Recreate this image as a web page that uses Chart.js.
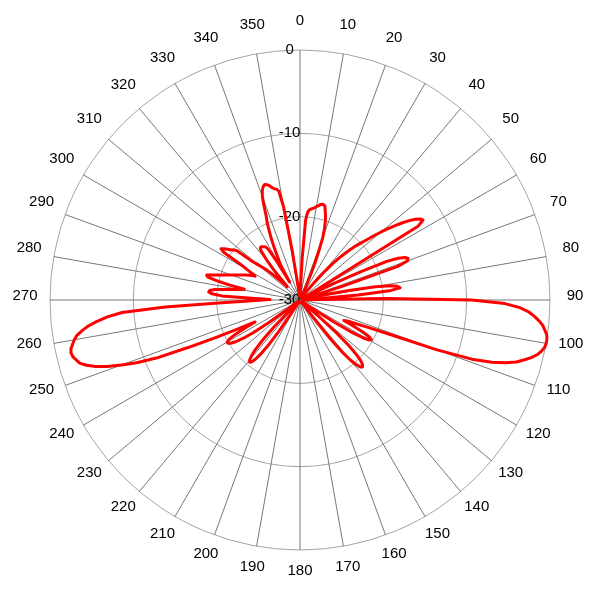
<!DOCTYPE html>
<html><head><meta charset="utf-8">
<script src="https://cdn.jsdelivr.net/npm/chart.js@4"></script>
<style>html,body{margin:0;padding:0;background:#fff}canvas{display:block}</style>
</head><body>
<canvas id="c" width="600" height="600"></canvas>
<script>
// Gain pattern (dB), one value per degree (clockwise from 0 = up)
const gain0to89 = [-29.5,-29.5,-29.0,-25.0,-20.4,-19.4,-19.1,-19.0,-18.9,-18.8,
 -18.6,-18.5,-18.3,-18.2,-18.2,-18.4,-19.0,-19.5,-20.2,-21.0,
 -22.0,-23.6,-25.2,-27.0,-28.8,-29.5,-29.6,-29.6,-29.7,-29.7,
 -29.7,-29.7,-29.7,-29.6,-29.6,-29.6,-29.5,-29.3,-28.5,-27.4,
 -26.3,-25.2,-24.0,-23.1,-22.2,-21.4,-20.6,-19.9,-19.2,-18.2,
 -17.3,-16.4,-15.5,-14.6,-13.8,-13.1,-12.6,-12.4,-13.3,-29.0,
 -29.6,-29.7,-29.6,-28.8,-25.6,-22.0,-18.6,-17.2,-16.4,-16.1,
 -16.3,-17.6,-24.5,-29.0,-29.6,-29.7,-29.6,-28.6,-26.8,-24.0,
 -20.8,-19.0,-18.2,-17.9,-19.0,-23.0,-27.5,-29.3,-29.4,-19.6];
const gain90to179 = [-9.4,-5.4,-3.6,-2.5,-1.8,-1.2,-0.7,-0.4,-0.1,0,
 0,-0.1,-0.4,-0.8,-1.4,-2.2,-3.0,-4.2,-5.8,-8.2,
 -12.6,-18.6,-21.4,-22.8,-23.8,-24.2,-23.0,-21.6,-20.6,-20.2,
 -20.4,-21.2,-22.8,-25.2,-28.5,-29.7,-29.7,-29.7,-29.7,-29.7,
 -29.6,-27.3,-24.1,-22.0,-20.6,-19.7,-19.2,-19.0,-19.2,-19.7,
 -20.6,-22.0,-24.1,-27.3,-29.6,-29.7,-29.7,-29.7,-29.7,-29.7,
 -29.7,-29.7,-29.7,-29.7,-29.7,-29.7,-29.7,-29.7,-29.7,-29.7,
 -29.7,-29.7,-29.7,-29.7,-29.7,-29.7,-29.7,-29.7,-29.7,-29.7,
 -29.7,-29.7,-29.7,-29.7,-29.7,-29.7,-29.7,-29.7,-29.7,-29.7];
const gain180to269 = [-29.7,-29.7,-29.7,-29.7,-29.7,-29.7,-29.7,-29.7,-29.7,-29.7,
 -29.7,-29.7,-29.7,-29.7,-29.7,-29.7,-29.7,-29.7,-29.7,-29.7,
 -29.7,-29.7,-29.7,-29.7,-29.7,-29.7,-29.7,-29.7,-29.7,-29.7,
 -29.7,-29.7,-29.6,-28.7,-25.5,-23.4,-22.0,-21.1,-20.6,-20.4,
 -20.6,-21.1,-22.0,-23.4,-25.5,-28.7,-29.6,-29.7,-29.7,-29.7,
 -29.7,-29.7,-29.6,-28.5,-25.5,-23.2,-21.8,-20.8,-20.2,-19.9,
 -19.9,-20.3,-21.2,-22.6,-24.0,-21.8,-19.0,-15.4,-11.4,-9.0,
 -7.2,-5.5,-4.2,-3.2,-2.5,-2.2,-1.9,-1.8,-1.9,-2.2,
 -2.5,-2.9,-3.6,-4.4,-5.5,-6.8,-8.6,-13.8,-20.6,-23.8];
const gain270to359 = [-25.4,-26.4,-24.6,-20.6,-19.4,-19.0,-19.1,-19.7,-21.0,-22.0,
 -22.8,-23.2,-21.4,-19.8,-18.6,-18.4,-19.1,-19.7,-20.3,-20.8,
 -21.2,-21.6,-22.0,-22.3,-22.6,-22.9,-23.2,-23.5,-23.9,-23.4,
 -22.6,-21.6,-19.2,-18.7,-19.0,-19.4,-19.8,-20.0,-20.4,-22.6,
 -23.4,-24.0,-24.6,-25.4,-26.4,-27.1,-27.8,-27.4,-26.4,-25.2,
 -24.0,-23.0,-22.3,-22.1,-22.1,-22.2,-22.3,-22.4,-22.8,-24.6,
 -27.5,-25.4,-24.6,-23.8,-22.8,-21.8,-20.9,-19.9,-19.2,-18.0,
 -16.8,-16.1,-15.7,-15.5,-15.6,-15.8,-16.1,-16.3,-16.4,-16.7,
 -18.6,-24.0,-28.5,-29.5,-29.5,-29.5,-29.5,-29.5,-29.5,-29.5];

const angleTicks = [0,10,20,30,40,50,60,70,80,90,100,110,120,130,140,150,160,170,
                    180,190,200,210,220,230,240,250,260,270,280,290,300,310,320,330,340,350];
const radialTicks = [-30,-20,-10,0];

const gain = [].concat(gain0to89, gain90to179, gain180to269, gain270to359);
const degrees = gain.map((_, i) => i);

const angleLabelPlugin = {
  id: 'angleLabels',
  afterDraw(chart) {
    const s = chart.scales.r;
    const ctx = chart.ctx;
    ctx.save();
    ctx.fillStyle = '#000';
    ctx.font = '15px "Liberation Sans", Arial, sans-serif';
    ctx.textAlign = 'center';
    ctx.textBaseline = 'alphabetic';
    angleTicks.forEach(a => {
      const p = s.getPointPosition(a, s.drawingArea * 1.1);
      ctx.fillText(String(a), p.x, p.y);
    });
    ctx.restore();
  }
};

new Chart(document.getElementById('c'), {
  type: 'radar',
  data: {
    labels: degrees,
    datasets: [{
      data: gain,
      borderColor: '#ff0000',
      borderWidth: 3,
      borderJoinStyle: 'round',
      pointRadius: 0,
      pointHoverRadius: 0,
      fill: false,
      tension: 0
    }]
  },
  options: {
    responsive: false,
    animation: false,
    devicePixelRatio: 1,
    layout: { padding: 40 },
    plugins: { legend: { display: false }, tooltip: { enabled: false } },
    scales: {
      r: {
        min: radialTicks[0],
        max: radialTicks[radialTicks.length - 1],
        startAngle: 0,
        afterBuildTicks: sc => { sc.ticks = radialTicks.map(v => ({ value: v })); },
        ticks: {
          display: true,
          showLabelBackdrop: false,
          color: '#000',
          font: { size: 15, family: '"Liberation Sans", Arial, sans-serif' },
          callback: v => v + '     '
        },
        grid: { circular: true, color: '#a3a3a3', lineWidth: 1 },
        angleLines: {
          display: true,
          lineWidth: 1,
          color: c => (angleTicks.includes(c.index) ? '#777777' : 'rgba(0,0,0,0)')
        },
        pointLabels: { display: false }
      }
    }
  },
  plugins: [angleLabelPlugin]
});
</script>
</body></html>
